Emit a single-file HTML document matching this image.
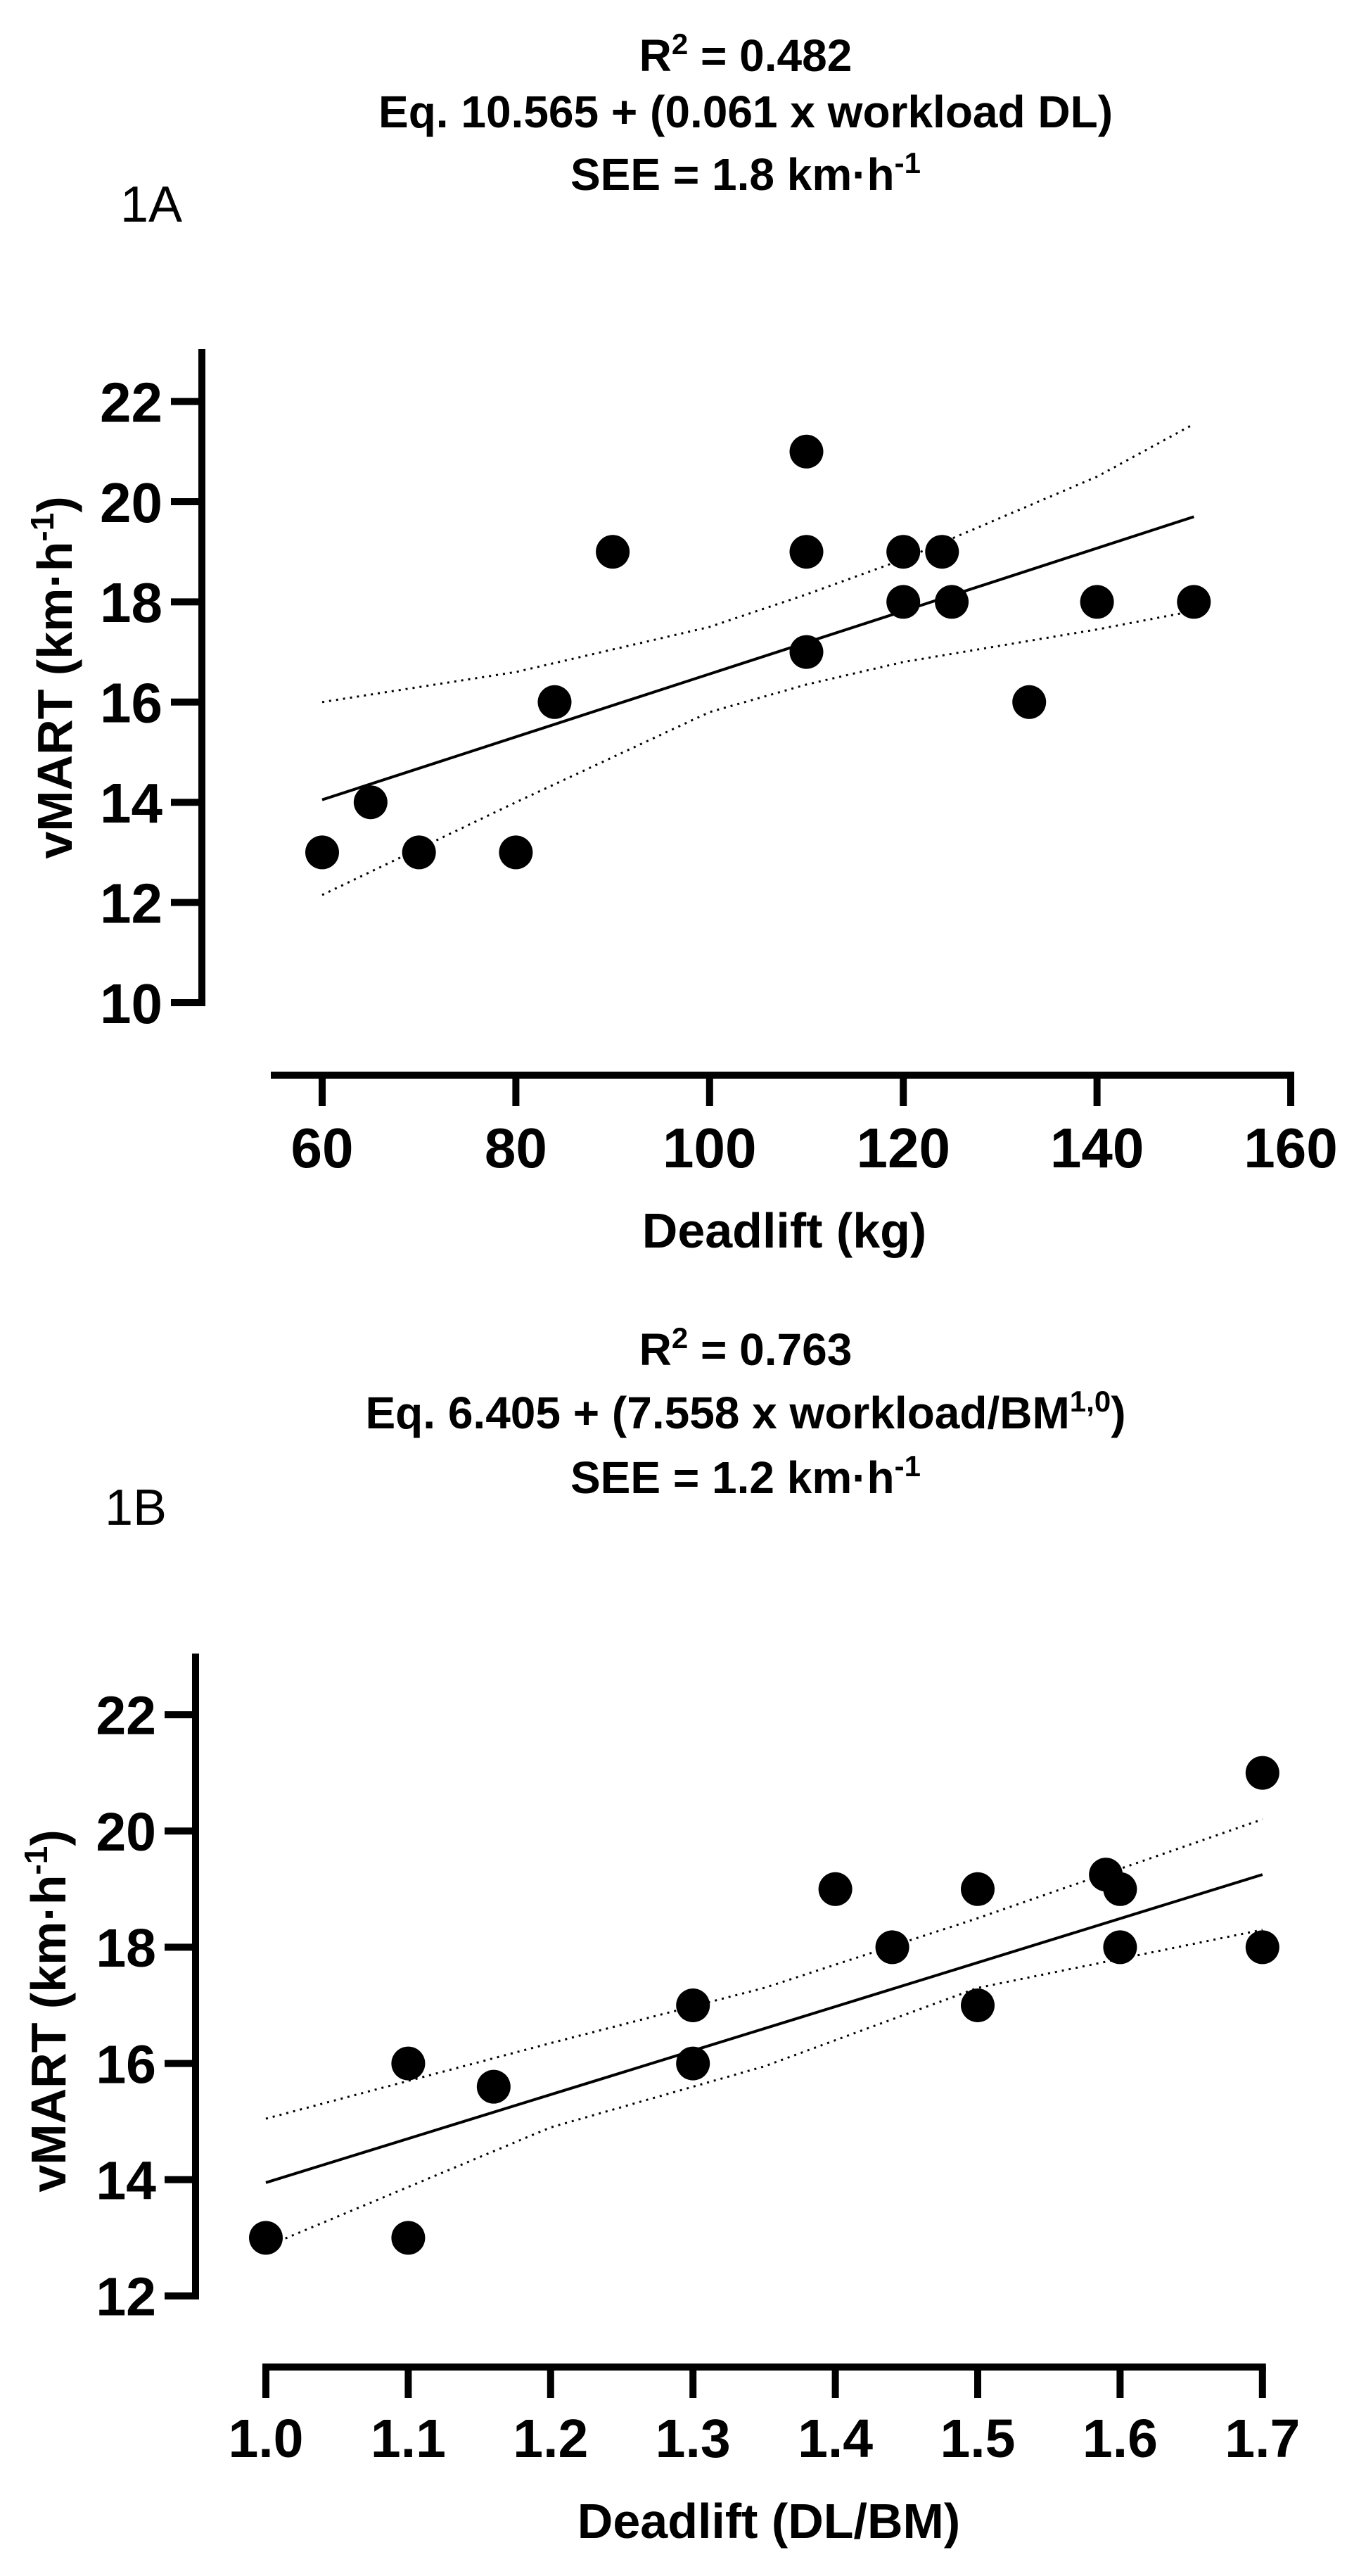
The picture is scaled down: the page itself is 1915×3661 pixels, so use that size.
<!DOCTYPE html>
<html><head><meta charset="utf-8"><style>
html,body{margin:0;padding:0;background:#fff;}
svg{display:block;}
text{font-family:"Liberation Sans",Arial,sans-serif;fill:#000;}
.t{font-weight:bold;font-size:64px;text-anchor:middle;}
.ax{font-weight:bold;font-size:70px;text-anchor:middle;}
</style></head><body>
<svg id="svg" width="1915" height="3661" viewBox="0 0 1915 3661" xmlns="http://www.w3.org/2000/svg">
<g>
<text class="t" x="1060" y="101">R<tspan dy="-24" font-size="42">2</tspan><tspan dy="24"> = 0.482</tspan></text>
<text class="t" x="1060" y="181">Eq. 10.565 + (0.061 x workload DL)</text>
<text class="t" x="1060" y="270">SEE = 1.8 km·h<tspan dy="-24" font-size="42">-1</tspan></text>
</g>
<text x="171" y="315" font-size="72">1A</text>
<g id="chartA"></g>
<g>
<text class="t" x="1060" y="1940">R<tspan dy="-24" font-size="42">2</tspan><tspan dy="24"> = 0.763</tspan></text>
<text class="t" x="1060" y="2030">Eq. 6.405 + (7.558 x workload/BM<tspan dy="-24" font-size="42">1,0</tspan><tspan dy="24">)</tspan></text>
<text class="t" x="1060" y="2122">SEE = 1.2 km·h<tspan dy="-24" font-size="42">-1</tspan></text>
</g>
<text x="149" y="2167" font-size="72">1B</text>
<g id="chartB"></g>
</svg>
<script>
// Chart 1A data
const aX = [60,65,70,80,84,90,110,110,110,120,120,124,125,133,140,150];
const aY = [13,14,13,13,16,19,21,19,17,19,18,19,18,16,18,18];
const aFitX = [60,150];
const aFitY = [14.05,19.7];
const aCiX = [60,80,100,110,120,140,150];
const aCiUpper = [16.0,16.6,17.5,18.15,18.85,20.5,21.55];
const aCiLower = [12.15,14.0,15.8,16.35,16.8,17.45,17.82];
const aXTicks = [60,80,100,120,140,160];
const aYTicks = [10,12,14,16,18,20,22];
// Chart 1B data
const bX = [1.0,1.1,1.1,1.16,1.3,1.3,1.4,1.44,1.5,1.5,1.59,1.6,1.6,1.7,1.7];
const bY = [13,16,13,15.6,17,16,19,18,19,17,19.25,19,18,21,18];
const bFitX = [1.0,1.7];
const bFitY = [13.95,19.25];
const bCiX = [1.0,1.2,1.35,1.5,1.7];
const bCiUpper = [15.05,16.35,17.3,18.5,20.2];
const bCiLower = [12.85,14.9,15.95,17.3,18.3];
const bXTicks = ['1.0','1.1','1.2','1.3','1.4','1.5','1.6','1.7'];
const bYTicks = [12,14,16,18,20,22];

const NS='http://www.w3.org/2000/svg';
function mk(parent,tag,attrs,txt){const e=document.createElementNS(NS,tag);for(const k in attrs)e.setAttribute(k,attrs[k]);if(txt!==undefined)e.textContent=txt;parent.appendChild(e);return e;}

function draw(g,cfg){
  const sx=v=>cfg.x0+(v-cfg.xv0)*cfg.xs;
  const sy=v=>cfg.y0-(v-cfg.yv0)*cfg.ys;
  const ya=mk(g,'line',{x1:cfg.ax,y1:cfg.yTop,x2:cfg.ax,y2:sy(cfg.yTicks[0])+5,stroke:'#000','stroke-width':10});
  
  
  cfg.yTicks.forEach(t=>{
    const l=mk(g,'line',{x1:cfg.ax-44,y1:sy(t),x2:cfg.ax,y2:sy(t),stroke:'#000','stroke-width':10});
    
    
    const tx=mk(g,'text',{x:cfg.ax-56,y:sy(t)+cfg.fs*0.36,'text-anchor':'end','font-size':cfg.fs,'font-weight':'bold'},String(t));
    
    
  });
  const xa=mk(g,'line',{x1:cfg.xStart,y1:cfg.xaY,x2:sx(parseFloat(cfg.xTicks[cfg.xTicks.length-1]))+5,y2:cfg.xaY,stroke:'#000','stroke-width':10});
  
  
  cfg.xTicks.forEach(t=>{
    const x=sx(parseFloat(t));
    const l=mk(g,'line',{x1:x,y1:cfg.xaY,x2:x,y2:cfg.xaY+44,stroke:'#000','stroke-width':10});
    
    
    const tx=mk(g,'text',{x:x,y:cfg.xlY,'text-anchor':'middle','font-size':cfg.fs,'font-weight':'bold'},String(t));
    
    
  });
  [[cfg.ciU,'ci-upper-line'],[cfg.ciL,'ci-lower-line']].forEach(([arr,n])=>{
    const pts=cfg.ciX.map((v,i)=>sx(v)+','+sy(arr[i])).join(' ');
    const p=mk(g,'polyline',{points:pts,fill:'none',stroke:'#000','stroke-width':3,'stroke-dasharray':'3 7'});
    
    
  });
  const f=mk(g,'line',{x1:sx(cfg.fitX[0]),y1:sy(cfg.fitY[0]),x2:sx(cfg.fitX[1]),y2:sy(cfg.fitY[1]),stroke:'#000','stroke-width':4});
  
  
  cfg.px.forEach((v,i)=>{
    const c=mk(g,'circle',{cx:sx(v),cy:sy(cfg.py[i]),r:24,fill:'#000'});
    
    
  });
  const yt=mk(g,'text',{class:'ax',transform:'translate('+cfg.ytx+','+cfg.yty+') rotate(-90)'});
  
  
  yt.innerHTML='vMART (km·h<tspan dy="-26" font-size="46">-1</tspan><tspan dy="26">)</tspan>';
  const xt=mk(g,'text',{class:'ax',x:cfg.xtx,y:cfg.xty},cfg.xTitle);
  
  
}
draw(document.getElementById('chartA'),{x0:458,xv0:60,xs:275.4/20,y0:1425,yv0:10,ys:71.2,ax:287,yTop:496,fs:80,
  xStart:385,xaY:1528,xlY:1659,xTicks:aXTicks,yTicks:aYTicks,ciX:aCiX,ciU:aCiUpper,ciL:aCiLower,fitX:aFitX,fitY:aFitY,
  px:aX,py:aY,ytx:102,yty:963,xtx:1115,xty:1773,xTitle:'Deadlift (kg)'});
draw(document.getElementById('chartB'),{x0:378,xv0:1.0,xs:2024,y0:3263,yv0:12,ys:82.6,ax:278,yTop:2350,fs:77,
  xStart:373,xaY:3364,xlY:3492,xTicks:bXTicks,yTicks:bYTicks,ciX:bCiX,ciU:bCiUpper,ciL:bCiLower,fitX:bFitX,fitY:bFitY,
  px:bX,py:bY,ytx:93,yty:2858,xtx:1093,xty:3607,xTitle:'Deadlift (DL/BM)'});
</script>
</body></html>
